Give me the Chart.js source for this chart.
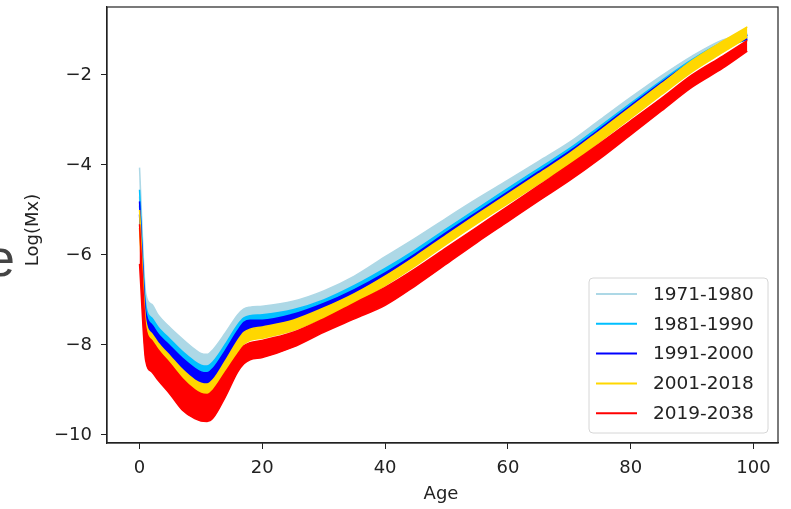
<!DOCTYPE html>
<html>
<head>
<meta charset="utf-8">
<script src="https://cdn.jsdelivr.net/npm/chart.js@4.4.1/dist/chart.umd.min.js"></script>
<style>
  body { margin: 0; background: #fff; }
  #wrap { width: 791px; height: 509px; position: relative; }
</style>
</head>
<body>
<div id="wrap"><canvas id="mxChart"></canvas></div>
<script>
// ages
const ages = [0, 1, 2, 3, 5, 7, 9, 10, 11, 12, 14, 16, 17, 18, 20, 25, 30, 35, 40, 45, 50, 55, 60, 65, 70, 75, 80, 85, 90, 95, 99];

// each period is drawn as a band: upper and lower edge of its bundle of yearly curves
const lb1971Top = [-4.06, -6.85, -7.1, -7.33, -7.62, -7.87, -8.1, -8.19, -8.21, -8.1, -7.73, -7.33, -7.2, -7.16, -7.14, -7.03, -6.8, -6.47, -6.04, -5.62, -5.18, -4.75, -4.34, -3.92, -3.5, -3.0, -2.5, -2.02, -1.58, -1.22, -1.08];
const lb1971Bot = [-4.7, -7.2, -7.5, -7.7, -7.98, -8.25, -8.47, -8.55, -8.57, -8.47, -8.08, -7.65, -7.5, -7.45, -7.43, -7.32, -7.1, -6.78, -6.4, -5.98, -5.52, -5.07, -4.62, -4.18, -3.74, -3.24, -2.73, -2.23, -1.76, -1.38, -1.2];

const dsb1981Top = [-4.55, -7.1, -7.4, -7.6, -7.88, -8.15, -8.37, -8.45, -8.47, -8.37, -7.98, -7.55, -7.4, -7.35, -7.33, -7.22, -7.0, -6.68, -6.3, -5.88, -5.42, -4.97, -4.52, -4.08, -3.64, -3.14, -2.63, -2.13, -1.66, -1.28, -1.1];
const dsb1981Bot = [-4.9, -7.35, -7.65, -7.85, -8.13, -8.4, -8.62, -8.7, -8.72, -8.62, -8.22, -7.78, -7.6, -7.55, -7.55, -7.42, -7.18, -6.87, -6.5, -6.07, -5.6, -5.15, -4.7, -4.25, -3.8, -3.3, -2.78, -2.27, -1.8, -1.4, -1.22];

const b1991Top = [-4.81, -7.25, -7.55, -7.75, -8.03, -8.3, -8.52, -8.6, -8.62, -8.52, -8.12, -7.68, -7.5, -7.45, -7.45, -7.32, -7.08, -6.77, -6.4, -5.97, -5.5, -5.05, -4.6, -4.15, -3.7, -3.2, -2.68, -2.17, -1.7, -1.3, -1.12];
const b1991Bot = [-5.1, -7.6, -7.9, -8.1, -8.38, -8.64, -8.87, -8.93, -8.95, -8.86, -8.42, -7.95, -7.76, -7.7, -7.68, -7.52, -7.26, -6.94, -6.56, -6.12, -5.65, -5.2, -4.74, -4.28, -3.83, -3.33, -2.8, -2.28, -1.8, -1.4, -1.2];

const g2001Top = [-5.0, -7.45, -7.75, -7.95, -8.25, -8.55, -8.78, -8.85, -8.87, -8.77, -8.35, -7.9, -7.72, -7.65, -7.6, -7.45, -7.18, -6.86, -6.47, -6.03, -5.56, -5.1, -4.65, -4.2, -3.75, -3.24, -2.72, -2.2, -1.68, -1.25, -0.93];
const g2001Bot = [-5.4, -7.95, -8.25, -8.45, -8.75, -9.0, -9.18, -9.24, -9.26, -9.16, -8.7, -8.2, -7.98, -7.9, -7.85, -7.68, -7.4, -7.07, -6.68, -6.24, -5.76, -5.3, -4.86, -4.42, -3.98, -3.48, -2.96, -2.44, -1.93, -1.5, -1.16];

const r2019Top = [-5.32, -7.6, -7.9, -8.1, -8.42, -8.75, -9.0, -9.08, -9.1, -9.0, -8.6, -8.2, -8.02, -7.95, -7.9, -7.72, -7.42, -7.07, -6.72, -6.3, -5.84, -5.38, -4.92, -4.46, -4.0, -3.52, -3.02, -2.52, -2.0, -1.58, -1.23];
const r2019Bot = [-6.2, -8.35, -8.6, -8.78, -9.1, -9.45, -9.64, -9.69, -9.7, -9.62, -9.15, -8.6, -8.42, -8.33, -8.28, -8.05, -7.72, -7.42, -7.12, -6.68, -6.2, -5.72, -5.26, -4.8, -4.35, -3.86, -3.33, -2.8, -2.27, -1.85, -1.47];

const periods = ["1971-1980", "1981-1990", "1991-2000", "2001-2018", "2019-2038"];
const colors = ["#add8e6", "#00bfff", "#0000ff", "#ffd700", "#ff0000"];
const xTicks = [0, 20, 40, 60, 80, 100];
const yTicks = [-10, -8, -6, -4, -2];

const bands = [
  [lb1971Top, lb1971Bot],
  [dsb1981Top, dsb1981Bot],
  [b1991Top, b1991Bot],
  [g2001Top, g2001Bot],
  [r2019Top, r2019Bot],
];

const FONT = "'DejaVu Sans', sans-serif";

function pts(vals) {
  return ages.map((a, i) => ({ x: a, y: vals[i] }));
}

const datasets = [];
bands.forEach((pair, i) => {
  // later periods are painted over earlier ones, as in the original plot
  const order = bands.length - i;
  datasets.push({
    label: periods[i],
    data: pts(pair[0]),
    borderColor: colors[i],
    backgroundColor: colors[i],
    borderWidth: 1.5,
    pointRadius: 0,
    cubicInterpolationMode: "monotone",
    fill: "+1",
    order: order,
  });
  datasets.push({
    label: "",
    data: pts(pair[1]),
    borderColor: colors[i],
    backgroundColor: colors[i],
    borderWidth: 1.5,
    pointRadius: 0,
    cubicInterpolationMode: "monotone",
    fill: false,
    order: order,
  });
});

const decor = {
  id: "decor",
  afterDraw(chart) {
    const ctx = chart.ctx;
    const a = chart.chartArea;
    ctx.save();

    // frame
    ctx.strokeStyle = "#222";
    ctx.lineWidth = 1.2;
    ctx.strokeRect(a.left, a.top, a.right - a.left, a.bottom - a.top);

    // axis titles
    ctx.fillStyle = "#222";
    ctx.font = "18px " + FONT;
    ctx.textAlign = "center";
    ctx.textBaseline = "middle";
    ctx.fillText("Age", 441, 494);
    ctx.save();
    ctx.translate(33, 230);
    ctx.rotate(-Math.PI / 2);
    ctx.fillText("Log(Mx)", 0, 0);
    ctx.restore();

    // legend box
    const bx = 589, by = 278, bw = 179, bh = 155, r = 4;
    ctx.beginPath();
    ctx.moveTo(bx + r, by);
    ctx.arcTo(bx + bw, by, bx + bw, by + bh, r);
    ctx.arcTo(bx + bw, by + bh, bx, by + bh, r);
    ctx.arcTo(bx, by + bh, bx, by, r);
    ctx.arcTo(bx, by, bx + bw, by, r);
    ctx.closePath();
    ctx.fillStyle = "rgba(255,255,255,0.8)";
    ctx.fill();
    ctx.strokeStyle = "#d6d6d6";
    ctx.lineWidth = 1;
    ctx.stroke();

    ctx.textAlign = "left";
    ctx.font = "18.5px " + FONT;
    periods.forEach((p, i) => {
      const y = 294 + i * 29.8;
      ctx.strokeStyle = colors[i];
      ctx.lineWidth = 2;
      ctx.beginPath();
      ctx.moveTo(596, y);
      ctx.lineTo(637, y);
      ctx.stroke();
      ctx.fillStyle = "#222";
      ctx.fillText(p, 653, y + 1);
    });

    // piece of a letter cut off at the left edge of the screenshot
    ctx.fillStyle = "#444";
    ctx.font = "52px 'Liberation Sans', sans-serif";
    ctx.textBaseline = "alphabetic";
    ctx.fillText("e", -14, 276);

    ctx.restore();
  },
};

new Chart(document.getElementById("mxChart"), {
  type: "line",
  data: { datasets },
  options: {
    responsive: true,
    maintainAspectRatio: false,
    animation: false,
    layout: { padding: { top: 7, right: 13, left: 0, bottom: 0 } },
    plugins: {
      legend: { display: false },
      tooltip: { enabled: false },
      filler: { propagate: false },
    },
    scales: {
      x: {
        type: "linear",
        min: -5.3,
        max: 104,
        afterBuildTicks: (s) => {
          s.ticks = xTicks.map((v) => ({ value: v }));
        },
        afterFit: (s) => {
          s.height = 66;
          s.paddingLeft = 0;
          s.paddingRight = 0;
        },
        grid: { drawOnChartArea: false, drawTicks: true, tickLength: 6, color: "#222" },
        border: { display: true, color: "#222", width: 1.2 },
        ticks: { font: { family: FONT, size: 18 }, color: "#222", padding: 9, maxRotation: 0 },
      },
      y: {
        type: "linear",
        min: -10.18,
        max: -0.49,
        afterBuildTicks: (s) => {
          s.ticks = yTicks.map((v) => ({ value: v }));
        },
        afterFit: (s) => {
          s.width = 107;
          s.paddingTop = 0;
          s.paddingBottom = 0;
        },
        grid: { drawOnChartArea: false, drawTicks: true, tickLength: 6, color: "#222" },
        border: { display: true, color: "#222", width: 1.2 },
        ticks: {
          font: { family: FONT, size: 18 },
          color: "#222",
          padding: 9,
          callback: (v) => String(v).replace("-", "\u2212"),
        },
      },
    },
  },
  plugins: [decor],
});
</script>
</body>
</html>
